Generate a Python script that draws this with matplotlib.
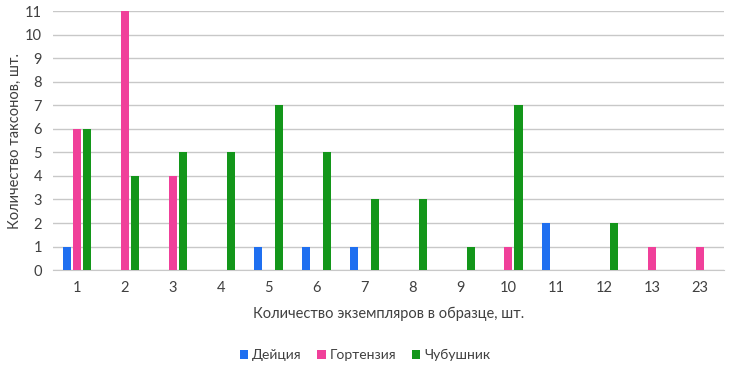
import numpy as np
import matplotlib
matplotlib.use("Agg")
import matplotlib.pyplot as plt

plt.rcParams["font.family"] = ["Lato", "DejaVu Sans"]

CATEGORIES = ["1", "2", "3", "4", "5", "6", "7", "8", "9", "10", "11", "12", "13", "23"]
DEUTZIA = [1, 0, 0, 0, 1, 1, 1, 0, 0, 0, 2, 0, 0, 0]
HYDRANGEA = [6, 11, 4, 0, 0, 0, 0, 0, 0, 1, 0, 0, 1, 1]
PHILADELPHUS = [6, 4, 5, 5, 7, 5, 3, 3, 1, 7, 0, 2, 0, 0]

SERIES = [
    ("Дейция", DEUTZIA, "#1f6ff0"),
    ("Гортензия", HYDRANGEA, "#f0409a"),
    ("Чубушник", PHILADELPHUS, "#13961a"),
]


def main():
    fig = plt.figure(figsize=(7.3, 3.68), dpi=100)
    ax = fig.add_axes([0.0726, 0.266, 0.919, 0.704])

    x = np.arange(len(CATEGORIES))
    width = 0.17
    step = 0.215
    for i, (name, values, color) in enumerate(SERIES):
        ax.bar(x + (i - 1) * step, values, width=width, color=color, label=name, zorder=3)

    ax.set_xlim(-0.5, len(CATEGORIES) - 0.5)
    ax.set_ylim(0, 11)
    ax.set_yticks(range(0, 12))
    ax.set_xticks(x)
    ax.set_xticklabels(CATEGORIES)
    ax.yaxis.grid(True, color="#c8c8c8", linewidth=1, zorder=0)
    for side in ["top", "right", "left"]:
        ax.spines[side].set_visible(False)
    ax.spines["bottom"].set_color("#c8c8c8")
    ax.tick_params(length=0, labelsize=10.5, colors="#404040", pad=8)

    ax.set_xlabel("Количество экземпляров в образце, шт.", fontsize=10.5, color="#404040", labelpad=8)
    ax.set_ylabel("Количество таксонов, шт.", fontsize=10.5, color="#404040", labelpad=2)

    fig.legend(
        loc="center",
        bbox_to_anchor=(0.5, 0.035),
        ncol=3,
        frameon=False,
        fontsize=10,
        handlelength=0.6,
        handleheight=0.6,
        handletextpad=0.3,
        columnspacing=1.1,
        labelcolor="#404040",
    )

    fig.savefig("out.png", dpi=100)
    plt.close(fig)


if __name__ == "__main__":
    main()
